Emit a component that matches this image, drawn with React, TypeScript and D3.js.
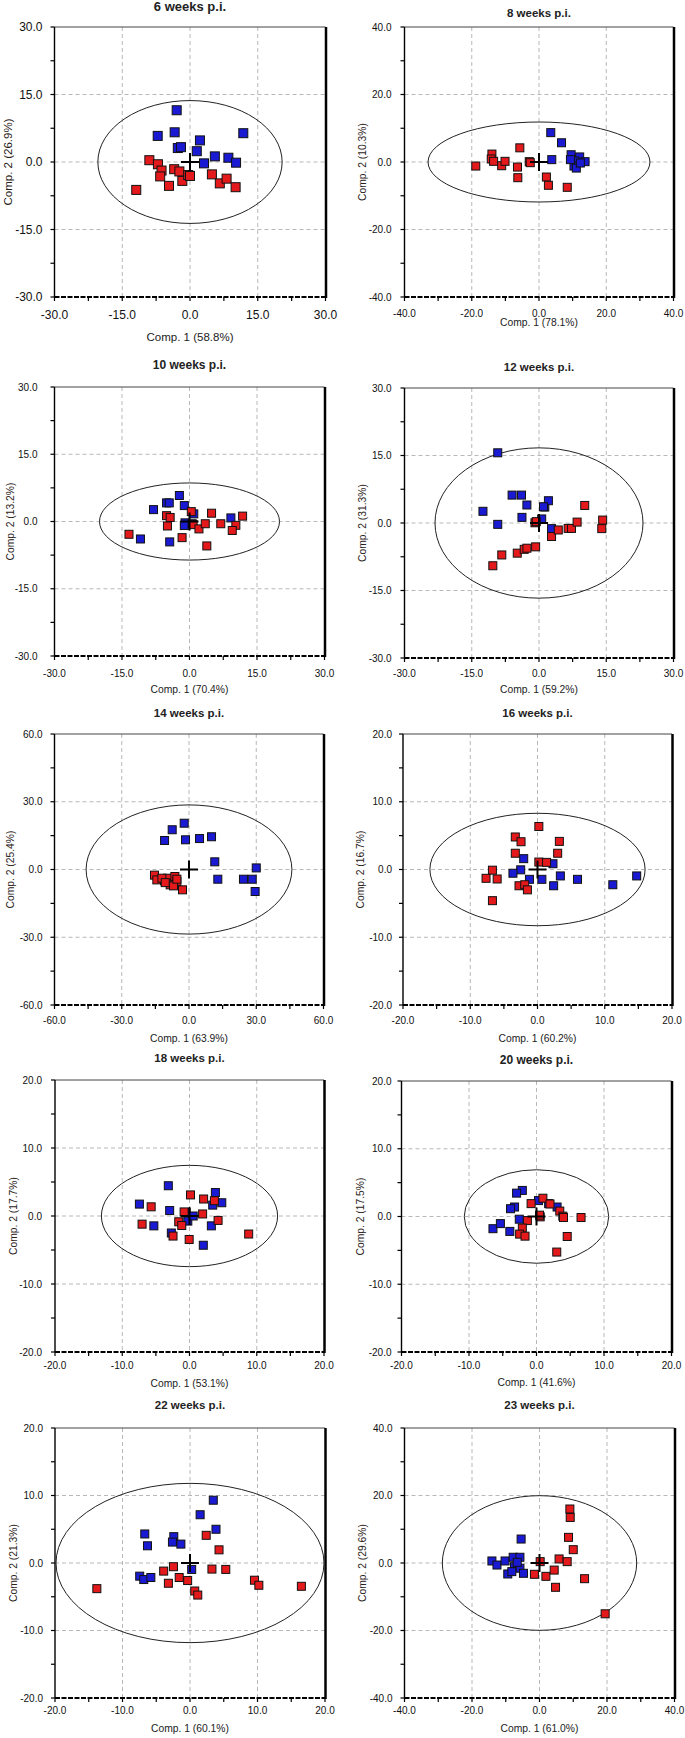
import React from "react";
import * as d3 from "d3";

// ---------- DATA ----------
const titles = [
  "6 weeks p.i.", "8 weeks p.i.", "10 weeks p.i.", "12 weeks p.i.", "14 weeks p.i.",
  "16 weeks p.i.", "18 weeks p.i.", "20 weeks p.i.", "22 weeks p.i.", "23 weeks p.i.",
];
const xTitles = [
  "Comp. 1 (58.8%)", "Comp. 1 (78.1%)", "Comp. 1 (70.4%)", "Comp. 1 (59.2%)", "Comp. 1 (63.9%)",
  "Comp. 1 (60.2%)", "Comp. 1 (53.1%)", "Comp. 1 (41.6%)", "Comp. 1 (60.1%)", "Comp. 1 (61.0%)",
];
const yTitles = [
  "Comp. 2 (26.9%)", "Comp. 2 (10.3%)", "Comp. 2 (13.2%)", "Comp. 2 (31.3%)", "Comp. 2 (25.4%)",
  "Comp. 2 (16.7%)", "Comp. 2 (17.7%)", "Comp. 2 (17.5%)", "Comp. 2 (21.3%)", "Comp. 2 (29.6%)",
];
// axis half-range and major tick step
const axisMax = [30, 40, 30, 30, 60, 20, 20, 20, 20, 40];
const tickStep = [15, 20, 15, 15, 30, 10, 10, 10, 10, 20];
// confidence ellipse semi-axes
const ellipseRx = [20.4, 33.0, 20.0, 23.2, 45.9, 16.0, 13.1, 10.7, 19.85, 28.8];
const ellipseRy = [13.65, 11.85, 8.6, 16.7, 28.6, 8.3, 7.45, 6.9, 11.8, 19.95];

type P = [number, number];

const w6Blue: P[] = [[-2.95, 11.5], [-7.15, 5.8], [-3.4, 6.6], [-2.7, 3.1], [-2.0, 3.3], [2.2, 4.8], [1.5, 2.4], [3.1, -0.3], [5.5, 1.25], [8.5, 0.95], [10.2, -0.15], [11.8, 6.4]];
const w6Red: P[] = [[-9.0, 0.4], [-7.1, -0.5], [-6.3, -1.9], [-6.6, -3.2], [-11.9, -6.2], [-4.65, -5.3], [-3.5, -1.6], [-2.35, -2.1], [-1.7, -4.2], [-0.4, -2.9], [0.0, -3.1], [4.85, -2.75], [6.6, -4.75], [8.1, -3.7], [10.1, -5.6]];

const w8Blue: P[] = [[3.5, 8.7], [6.7, 5.7], [3.8, 0.7], [9.55, 2.15], [12.1, 1.5], [10.7, 0.3], [13.7, 0.1], [10.4, -1.2], [11.1, -1.8], [12.3, -0.3], [9.35, 0.7]];
const w8Red: P[] = [[-18.8, -1.2], [-14.0, 2.35], [-14.2, 0.9], [-13.5, 0.2], [-11.1, -1.1], [-10.1, 0.2], [-6.4, -1.5], [-6.3, -4.65], [-5.7, 4.2], [-2.9, 0.1], [-2.6, -0.2], [2.2, -4.45], [2.8, -6.9], [8.4, -7.5]];

const w10Blue: P[] = [[-2.25, 5.8], [-5.1, 4.15], [-4.5, 4.15], [-8.0, 2.65], [-1.15, 3.55], [0.95, 1.7], [-1.0, -0.3], [-1.15, -0.9], [9.2, 0.8], [-10.9, -3.9], [-4.4, -4.55], [0.6, -0.5]];
const w10Red: P[] = [[-13.45, -2.85], [-5.1, 1.3], [-4.3, 0.9], [-4.9, -1.0], [-1.65, -3.6], [0.4, 2.2], [0.8, -0.7], [2.1, -1.65], [3.5, -0.5], [4.9, 1.85], [3.85, -5.45], [6.95, -0.5], [10.3, -0.85], [9.5, -2.0], [11.8, 1.2]];

const w12Blue: P[] = [[-9.2, 15.6], [-12.5, 2.6], [-9.2, -0.3], [-6.0, 6.2], [-3.9, 6.2], [-2.7, 4.0], [-3.8, 1.25], [1.3, 3.55], [2.1, 4.95], [0.6, 0.9], [2.8, -1.25], [1.0, 3.6]];
const w12Red: P[] = [[-10.3, -9.5], [-8.3, -7.1], [-4.85, -6.7], [-3.3, -5.85], [-2.7, -5.6], [-0.75, -5.3], [-0.9, 0.05], [-0.6, 0.3], [2.8, -3.0], [4.3, -1.55], [6.5, -1.2], [7.25, -1.2], [8.5, 0.2], [10.2, 3.9], [14.0, -1.25], [14.2, 0.65]];

const w14Blue: P[] = [[-2.15, 20.5], [-7.5, 17.6], [-10.9, 12.85], [-1.55, 13.15], [4.7, 13.7], [10.05, 14.5], [11.5, 3.4], [12.85, -4.3], [24.3, -4.3], [28.2, -4.3], [30.0, 0.7], [29.5, -9.75]];
const w14Red: P[] = [[-15.4, -2.5], [-14.35, -4.6], [-10.9, -5.0], [-9.6, -3.85], [-7.5, -6.35], [-6.3, -3.1], [-5.4, -5.3], [-2.9, -9.0], [-12.1, -3.85], [-8.4, -6.8], [-6.9, -7.25], [-5.4, -4.3], [-10.6, -5.8]];

const w16Blue: P[] = [[-2.05, 1.6], [-2.5, -0.05], [-3.65, -0.55], [-1.2, -1.45], [0.65, -1.45], [2.3, 0.85], [3.4, -0.95], [2.4, -2.4], [5.95, -1.45], [11.2, -2.25], [14.75, -0.95]];
const w16Red: P[] = [[0.2, 6.35], [-3.3, 4.8], [-2.45, 4.1], [3.25, 4.15], [-3.3, 2.4], [3.0, 2.4], [0.2, 1.1], [1.35, 1.05], [-6.7, -0.1], [-7.65, -1.3], [-6.0, -1.4], [-2.75, -2.4], [-1.9, -2.25], [-1.5, -3.0], [-6.7, -4.6]];

const w18Blue: P[] = [[-3.15, 4.45], [-7.45, 1.75], [-2.95, 0.8], [-5.3, -1.45], [-2.7, -2.5], [-0.5, 0.5], [-0.25, -0.75], [0.55, 0.0], [3.85, 3.45], [3.45, 1.6], [4.8, 1.95], [3.25, -1.45], [2.05, -4.3]];
const w18Red: P[] = [[-5.7, 1.35], [-7.05, -1.2], [0.15, 3.1], [2.1, 2.5], [3.7, 2.25], [-0.8, 0.6], [-1.6, -0.85], [-1.15, -1.4], [-2.45, -2.95], [-0.05, -3.45], [1.95, 0.3], [4.25, -0.65], [8.8, -2.65]];

const w20Blue: P[] = [[-2.1, 3.85], [-2.95, 3.45], [-3.25, 1.4], [-3.85, 1.15], [-2.55, -0.4], [-6.45, -1.8], [-5.35, -1.05], [-3.95, -2.2], [0.3, 2.35], [3.05, 1.4], [1.8, 1.9]];
const w20Red: P[] = [[0.95, 2.7], [2.0, 1.85], [-0.8, 1.9], [3.45, 0.8], [3.9, 0.05], [4.0, -0.15], [6.6, -0.15], [-1.35, -0.6], [-2.1, -1.7], [-2.5, -2.6], [-1.7, -2.9], [0.55, -0.05], [0.45, 0.2], [4.55, -2.95], [3.0, -5.25]];

const w22Blue: P[] = [[3.45, 9.3], [1.5, 7.15], [3.85, 5.0], [-6.7, 4.3], [-6.3, 2.55], [-2.4, 3.9], [-2.6, 3.1], [-1.35, 2.8], [-7.45, -1.95], [-6.85, -2.45], [-5.8, -2.15], [0.25, -0.95]];
const w22Red: P[] = [[-13.8, -3.8], [-3.9, -1.2], [-2.45, -0.55], [-3.2, -3.0], [-1.6, -2.15], [-0.35, -2.6], [0.7, -4.15], [1.15, -4.75], [2.4, 4.1], [4.3, 1.95], [3.25, -0.9], [5.3, -0.95], [9.55, -2.55], [10.2, -3.3], [16.5, -3.45]];

const w23Blue: P[] = [[-5.45, 7.1], [-14.1, 0.6], [-12.6, -0.6], [-10.2, 0.6], [-9.4, -3.25], [-7.8, 1.7], [-5.8, 1.7], [-7.4, -1.1], [-5.8, -1.55], [-4.75, -3.05], [-8.2, -2.55], [-6.6, 0.2]];
const w23Red: P[] = [[9.0, 16.0], [9.1, 13.5], [8.6, 7.6], [10.0, 3.95], [5.8, 1.2], [8.2, 0.4], [0.2, 0.4], [-1.5, -3.35], [1.9, -3.95], [4.35, -2.1], [4.75, -7.2], [13.35, -4.65], [19.45, -15.05]];

const blueSeries = [w6Blue, w8Blue, w10Blue, w12Blue, w14Blue, w16Blue, w18Blue, w20Blue, w22Blue, w23Blue];
const redSeries = [w6Red, w8Red, w10Red, w12Red, w14Red, w16Red, w18Red, w20Red, w22Red, w23Red];

// ---------- LAYOUT ----------
type L = { x: number; y: number; w: number; h: number; font: number; tFont: number; mk: number; gap: number; tickDy: number; xtDy: number; titleDy: number; ytX: number };
const layouts: L[] = [
  { x: 54.5, y: 27, w: 271, h: 270, font: 12, tFont: 13, mk: 9, gap: 12, tickDy: 18, xtDy: 40, titleDy: -21, ytX: 8 },
  { x: 404.5, y: 27, w: 269, h: 270, font: 10, tFont: 11.5, mk: 8, gap: 13, tickDy: 16, xtDy: 25, titleDy: -14, ytX: 362 },
  { x: 54.5, y: 387, w: 270, h: 269, font: 10, tFont: 12, mk: 8, gap: 17, tickDy: 17, xtDy: 33, titleDy: -22, ytX: 10 },
  { x: 404.5, y: 388, w: 269, h: 270, font: 10, tFont: 11.5, mk: 8, gap: 13, tickDy: 15, xtDy: 31, titleDy: -21, ytX: 362 },
  { x: 54.5, y: 734, w: 269, h: 271, font: 10, tFont: 11.5, mk: 8, gap: 12, tickDy: 15, xtDy: 33, titleDy: -21, ytX: 10 },
  { x: 403, y: 734, w: 269, h: 271, font: 10, tFont: 11.5, mk: 8, gap: 11, tickDy: 15, xtDy: 33, titleDy: -21, ytX: 360 },
  { x: 55, y: 1080, w: 269, h: 272, font: 10, tFont: 11.5, mk: 8, gap: 13, tickDy: 13, xtDy: 31, titleDy: -22, ytX: 13 },
  { x: 401.5, y: 1081, w: 270, h: 271, font: 10, tFont: 12, mk: 8, gap: 10, tickDy: 13, xtDy: 30, titleDy: -21, ytX: 360 },
  { x: 55, y: 1428, w: 270, h: 270, font: 10, tFont: 11.5, mk: 8, gap: 12, tickDy: 12, xtDy: 30, titleDy: -23, ytX: 13 },
  { x: 404.5, y: 1428, w: 270, h: 270, font: 10, tFont: 11.5, mk: 8, gap: 12, tickDy: 12, xtDy: 30, titleDy: -23, ytX: 362 },
];

const FONT = "'Liberation Sans', Arial, sans-serif";
const RED = "#e3191c";
const BLUE = "#1a1ad2";

function Panel({ i }: { i: number }) {
  const L = layouts[i];
  const m = axisMax[i];
  const step = tickStep[i];
  const x = d3.scaleLinear().domain([-m, m]).range([L.x, L.x + L.w]);
  const y = d3.scaleLinear().domain([-m, m]).range([L.y + L.h, L.y]);
  const majors = d3.range(-m, m + step / 2, step);
  const minors = d3.range(-m, m + step / 4, step / 2);
  const inner = majors.filter((v) => v !== -m && v !== m);
  const fmt = (v: number) => (Math.abs(v) < 1e-9 ? 0 : v).toFixed(1);
  const s = L.mk;
  const cx = x(0), cy = y(0);
  return (
    <g>
      <text x={L.x + L.w / 2} y={L.y + L.titleDy} textAnchor="middle" dominantBaseline="central" fontFamily={FONT} fontWeight="bold" fontSize={L.tFont} fill="#222">{titles[i]}</text>
      {/* grid */}
      {inner.map((v) => (
        <line key={"gx" + v} x1={x(v)} x2={x(v)} y1={L.y} y2={L.y + L.h} stroke="#b8b8b8" strokeWidth={1} strokeDasharray="4 3" />
      ))}
      {inner.map((v) => (
        <line key={"gy" + v} y1={y(v)} y2={y(v)} x1={L.x} x2={L.x + L.w} stroke="#b8b8b8" strokeWidth={1} strokeDasharray="4 3" />
      ))}
      {/* frame */}
      <line x1={L.x} x2={L.x + L.w} y1={L.y} y2={L.y} stroke="#444" strokeWidth={1} />
      <line x1={L.x + L.w + 0.5} x2={L.x + L.w + 0.5} y1={L.y} y2={L.y + L.h + 1} stroke="#000" strokeWidth={2.5} />
      <line x1={L.x} x2={L.x} y1={L.y} y2={L.y + L.h} stroke="#000" strokeWidth={1.4} />
      <line x1={L.x} x2={L.x + L.w} y1={L.y + L.h} y2={L.y + L.h} stroke="#000" strokeWidth={2} strokeDasharray="5 1.5" />
      {/* ticks */}
      {minors.map((v) => (
        <line key={"ty" + v} x1={L.x - 4} x2={L.x} y1={y(v)} y2={y(v)} stroke="#000" strokeWidth={1.2} />
      ))}
      {minors.map((v) => (
        <line key={"tx" + v} x1={x(v)} x2={x(v)} y1={L.y + L.h} y2={L.y + L.h + 4} stroke="#000" strokeWidth={1.2} />
      ))}
      {majors.map((v) => (
        <text key={"ly" + v} x={L.x - L.gap} y={y(v)} textAnchor="end" dominantBaseline="central" fontFamily={FONT} fontSize={L.font} fill="#111">{fmt(v)}</text>
      ))}
      {majors.map((v) => (
        <text key={"lx" + v} x={x(v)} y={L.y + L.h + L.tickDy} textAnchor="middle" dominantBaseline="central" fontFamily={FONT} fontSize={L.font} fill="#111">{fmt(v)}</text>
      ))}
      <text x={L.x + L.w / 2} y={L.y + L.h + L.xtDy} textAnchor="middle" dominantBaseline="central" fontFamily={FONT} fontSize={L.font + (i === 0 ? -0.5 : 0.3)} fill="#222">{xTitles[i]}</text>
      <text transform={`translate(${L.ytX},${L.y + L.h / 2}) rotate(-90)`} textAnchor="middle" dominantBaseline="central" fontFamily={FONT} fontSize={L.font + (i === 0 ? -0.5 : 0.3)} fill="#2a2218">{yTitles[i]}</text>
      {/* ellipse */}
      <ellipse cx={cx} cy={cy} rx={x(ellipseRx[i]) - cx} ry={cy - y(ellipseRy[i])} fill="none" stroke="#222" strokeWidth={1} />
      {/* points */}
      {blueSeries[i].map((p, k) => (
        <rect key={"b" + k} x={x(p[0]) - s / 2} y={y(p[1]) - s / 2} width={s} height={s} fill={BLUE} stroke="#111" strokeWidth={1} />
      ))}
      {redSeries[i].map((p, k) => (
        <rect key={"r" + k} x={x(p[0]) - s / 2} y={y(p[1]) - s / 2} width={s} height={s} fill={RED} stroke="#111" strokeWidth={1} />
      ))}
      {/* centre cross */}
      <line x1={cx - 9} x2={cx + 9} y1={cy} y2={cy} stroke="#000" strokeWidth={2} />
      <line x1={cx} x2={cx} y1={cy - 9} y2={cy + 9} stroke="#000" strokeWidth={2} />
    </g>
  );
}

export default function App() {
  return (
    <svg width={685} height={1738} style={{ position: "absolute", left: 0, top: 0, background: "#fff" }}>
      <rect width={685} height={1738} fill="#fff" />
      {titles.map((_, i) => (
        <Panel key={i} i={i} />
      ))}
    </svg>
  );
}
